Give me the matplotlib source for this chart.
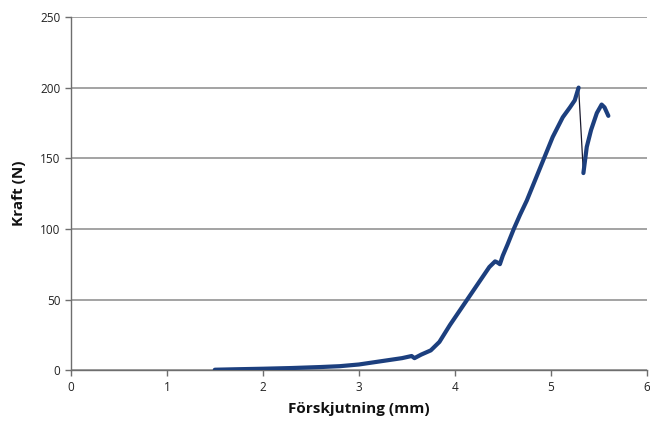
import matplotlib
matplotlib.use("Agg")
import matplotlib.pyplot as plt

# Displacement (mm) and force (N) of the test, loading branch up to failure
disp_load = [1.5, 1.7, 2.0, 2.3, 2.6, 2.8, 3.0, 3.15, 3.3, 3.45, 3.55, 3.58, 3.65,
             3.75, 3.84, 3.95, 4.04, 4.13, 4.21, 4.29, 4.36, 4.42, 4.45, 4.47,
             4.5, 4.55, 4.615, 4.68, 4.75, 4.84, 4.93, 5.02, 5.125, 5.2, 5.25, 5.29]
force_load = [0.3, 0.6, 1.0, 1.5, 2.2, 2.8, 4.0, 5.5, 7.0, 8.5, 10.0, 8.5, 11.0,
              14.0, 20.0, 32.0, 41.0, 50.0, 58.0, 66.0, 73.0, 77.0, 76.0, 75.0,
              81.0, 89.0, 100.0, 110.0, 120.0, 135.0, 150.0, 165.0, 179.0, 186.0,
              191.0, 200.0]
# Branch after the first failure
disp_post = [5.34, 5.375, 5.42, 5.48, 5.53, 5.56, 5.6]
force_post = [139.5, 158.0, 170.0, 182.0, 188.0, 186.0, 180.0]

x_ticks = [0, 1, 2, 3, 4, 5, 6]
y_ticks = [0, 50, 100, 150, 200, 250]

plt.rcParams["font.family"] = ["Open Sans", "DejaVu Sans"]

fig = plt.figure(figsize=(6.5, 4.24), dpi=100)
ax = fig.add_axes([0.109, 0.127, 0.886, 0.833])

navy = "#1c3f7e"
# thin connecting line across the whole record
ax.plot(disp_load + disp_post, force_load + force_post, color="#1a1a2e",
        lw=0.9, zorder=3)
# dense measurement points drawn as a thick trace
for xs, ys in ((disp_load, force_load), (disp_post, force_post)):
    ax.plot(xs, ys, color=navy, lw=3.0, solid_capstyle="round",
            solid_joinstyle="round", zorder=4)

ax.set_xlim(0, 6)
ax.set_ylim(0, 250)
ax.set_xticks(x_ticks)
ax.set_yticks(y_ticks)
ax.yaxis.grid(True, color="#8a8a8a", lw=1.1)
ax.set_axisbelow(True)

for side in ("top", "right"):
    ax.spines[side].set_visible(False)
for side in ("left", "bottom"):
    ax.spines[side].set_color("#6e6e6e")
    ax.spines[side].set_linewidth(1.0)

ax.tick_params(axis="both", direction="out", length=4, width=1,
               color="#6e6e6e", labelsize=8.5, labelcolor="#222222")

ax.set_xlabel("Förskjutning (mm)", fontsize=11, fontweight="bold",
              color="#111111", labelpad=6)
ax.set_ylabel("Kraft (N)", fontsize=11, fontweight="bold",
              color="#111111", labelpad=10)

fig.savefig("out.png", dpi=100)
